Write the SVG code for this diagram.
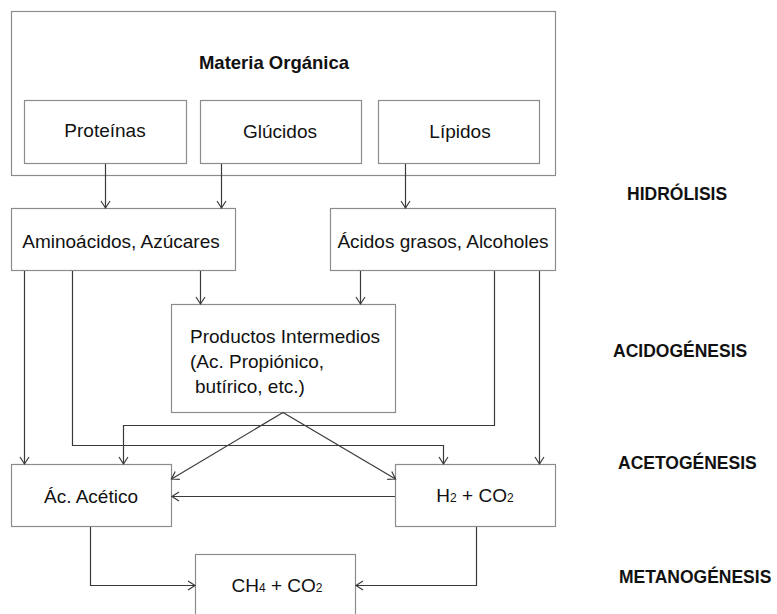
<svg xmlns="http://www.w3.org/2000/svg" width="777" height="614" viewBox="0 0 777 614">
<style>
.box{fill:#fff;stroke:#8c8c8c;stroke-width:1.2}
.t{font-family:"Liberation Sans",Arial,sans-serif;font-size:19px;fill:#111}
.c{text-anchor:middle}
.lbl{font-family:"Liberation Sans",Arial,sans-serif;font-size:17.5px;font-weight:bold;fill:#111}
.con{fill:none;stroke:#3a3a3a;stroke-width:1.2}
.sub{font-size:12px}
</style>
<defs>
<marker id="ah" markerUnits="userSpaceOnUse" markerWidth="12" markerHeight="12" viewBox="-10 -6 12 12" refX="0" refY="0" orient="auto">
<path d="M-7,-4.5 L0,0 L-7,4.5" fill="none" stroke="#3a3a3a" stroke-width="1.2"/>
</marker>
</defs>
<rect width="777" height="614" fill="#fff"/>
<g id="materia">
<rect class="box" x="11.5" y="11.5" width="544" height="164"/>
<text class="t c" x="274" y="69" style="font-weight:bold;font-size:18.5px">Materia Orgánica</text>
</g>
<g id="proteinas"><rect class="box" x="24.5" y="100.5" width="162" height="63"/><text class="t c" x="105" y="137">Proteínas</text></g>
<g id="glucidos"><rect class="box" x="200.5" y="100.5" width="161" height="63"/><text class="t c" x="280" y="138">Glúcidos</text></g>
<g id="lipidos"><rect class="box" x="378.5" y="100.5" width="161" height="63"/><text class="t c" x="460" y="138">Lípidos</text></g>
<g id="aminoacidos"><rect class="box" x="11.5" y="208.5" width="224" height="62"/><text class="t c" x="121" y="248">Aminoácidos, Azúcares</text></g>
<g id="acidos"><rect class="box" x="330.5" y="208.5" width="225" height="62"/><text class="t c" x="443" y="248">Ácidos grasos, Alcoholes</text></g>
<g id="productos"><rect class="box" x="171.5" y="304.5" width="224" height="108"/>
<text class="t" x="190" y="343">Productos Intermedios</text>
<text class="t" x="190" y="368">(Ac. Propiónico,</text>
<text class="t" x="195" y="393">butírico, etc.)</text></g>
<g id="acetico"><rect class="box" x="11.5" y="464.5" width="160" height="62"/><text class="t c" x="91" y="503">Ác. Acético</text></g>
<g id="h2co2"><rect class="box" x="395.5" y="464.5" width="160" height="62"/><text class="t c" x="475" y="502">H<tspan class="sub">2</tspan> + CO<tspan class="sub">2</tspan></text></g>
<g id="ch4co2"><rect class="box" x="195.5" y="554.5" width="160" height="66"/><text class="t c" x="277" y="592">CH<tspan class="sub">4</tspan> + CO<tspan class="sub">2</tspan></text></g>
<g id="labels">
<text class="lbl" x="627" y="200">HIDRÓLISIS</text>
<text class="lbl" x="613" y="357">ACIDOGÉNESIS</text>
<text class="lbl" x="618" y="469">ACETOGÉNESIS</text>
<text class="lbl" x="619" y="583">METANOGÉNESIS</text>
</g>
<g id="connectors">
<path class="con" marker-end="url(#ah)" d="M105.5,164 V208"/>
<path class="con" marker-end="url(#ah)" d="M221.5,164 V208"/>
<path class="con" marker-end="url(#ah)" d="M405.5,164 V208"/>
<path class="con" marker-end="url(#ah)" d="M200.5,271 V304"/>
<path class="con" marker-end="url(#ah)" d="M360.5,271 V304"/>
<path class="con" marker-end="url(#ah)" d="M24.5,271 V464"/>
<path class="con" marker-end="url(#ah)" d="M72.5,271 V445.5 H443.5 V464"/>
<path class="con" marker-end="url(#ah)" d="M494.5,271 V425.5 H123.5 V464"/>
<path class="con" marker-end="url(#ah)" d="M539.5,271 V464"/>
<path class="con" marker-end="url(#ah)" d="M283,412.5 L171.5,479"/>
<path class="con" marker-end="url(#ah)" d="M283,412.5 L395.5,479"/>
<path class="con" marker-end="url(#ah)" d="M395,496.5 H172"/>
<path class="con" marker-end="url(#ah)" d="M90.5,527 V585.5 H195"/>
<path class="con" marker-end="url(#ah)" d="M476.5,527 V585.5 H356"/>
</g>
</svg>
